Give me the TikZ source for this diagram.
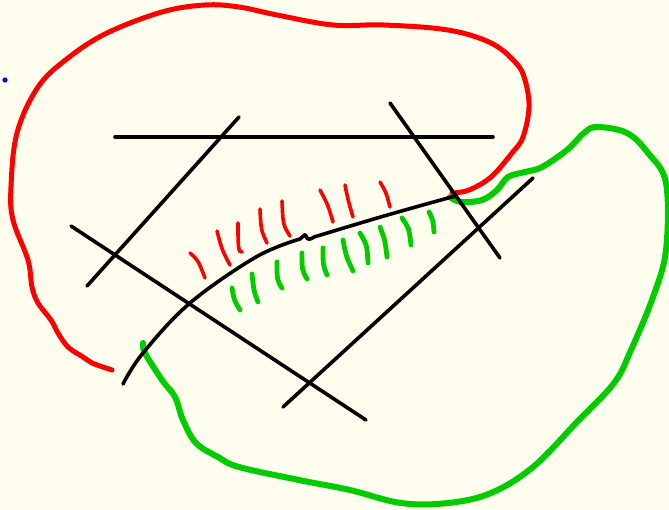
\documentclass[tikz,border=0pt]{standalone}
\definecolor{bg}{RGB}{255,253,238}
\definecolor{sred}{RGB}{255,0,0}
\definecolor{sgreen}{RGB}{0,204,0}
\definecolor{sblue}{RGB}{0,0,255}
\tikzset{
  blk/.style={draw=black,line width=3.6pt,line cap=round,line join=round},
  redline/.style={draw=sred,line width=5pt,line cap=round,line join=round},
  greenline/.style={draw=sgreen,line width=6pt,line cap=round,line join=round},
  redhatch/.style={draw=sred,line width=3.6pt,line cap=round},
  greenhatch/.style={draw=sgreen,line width=4.8pt,line cap=round},
}
\begin{document}
\begin{tikzpicture}[x=1pt,y=-1pt]
\fill[bg] (0,0) rectangle (669,509);
\useasboundingbox (0,0) rectangle (669,509);
% blue dot
\fill[sblue] (5,80) circle (2.6);
% red outline
\draw[redline] plot[smooth,tension=0.6] coordinates {
 (112,370) (92,363) (83,357) (68,347) (58,333) (51,320) (38,303) (32,287)
 (28,260) (13,220) (11,187) (17,133) (38,87) (68,58) (107,33) (162,12)
 (205,5) (239,7) (277,15) (333,25) (384,25) (448,30) (491,43) (516,63)
 (525,80) (529,107) (523,137) (512,153) (491,177) (469,190) (452,193)};
% green outline
\draw[greenline] plot[smooth,tension=0.6] coordinates {
 (143,343) (145,353) (162,380) (175,397) (183,420) (196,443) (218,457)
 (239,467) (299,480) (350,490) (401,503) (448,503) (491,493) (533,467)
 (576,423) (614,383) (631,350) (653,297) (666,250) (666,183) (648,153)
 (627,133) (597,127) (584,133) (567,150) (542,167) (525,172) (508,177)
 (497,190) (482,200) (461,202) (450,197)};
% black straight lines
\draw[blk] (115,137) -- (493,137);
\draw[blk] (239,117) -- (87,286);
\draw[blk] (390,103) -- (500,258);
\draw[blk] (71,226) -- (366,420);
\draw[blk] (533,178) -- (283,407);
% black curve
\draw[blk] plot[smooth,tension=0.6] coordinates {
 (123,384) (143,353) (190,303) (256,257) (300,239)};
\draw[blk] (300,239) .. controls (304,236) and (305,233) .. (306,236)
  .. controls (307,240) and (310,240) .. (314,237);
\draw[blk] plot[smooth,tension=0.6] coordinates {
 (314,237) (384,216) (448,198) (452,197)};
% red hatches
\draw[redhatch] (190,253) .. controls (198,260) .. (205,278);
\draw[redhatch] (217,231) .. controls (222,250) .. (230,265);
\draw[redhatch] (238,223) .. controls (238,245) and (238,253) .. (242,252);
\draw[redhatch] (260,209) .. controls (261,230) .. (267,243);
\draw[redhatch] (282,201) .. controls (283,225) .. (290,236);
\draw[redhatch] (320,190) .. controls (328,205) .. (333,222);
\draw[redhatch] (345,185) .. controls (348,200) .. (353,217);
\draw[redhatch] (380,182) .. controls (386,192) .. (390,207);
% green hatches
\draw[greenhatch] (232,288) .. controls (234,300) .. (240,310);
\draw[greenhatch] (252,274) .. controls (254,292) .. (258,302);
\draw[greenhatch] (277,262) .. controls (277,280) .. (282,288);
\draw[greenhatch] (302,253) .. controls (302,270) .. (307,279);
\draw[greenhatch] (323,248) .. controls (323,265) .. (327,275);
\draw[greenhatch] (343,240) .. controls (346,256) .. (353,271);
\draw[greenhatch] (360,233) .. controls (367,245) .. (368,263);
\draw[greenhatch] (380,227) .. controls (385,240) .. (387,257);
\draw[greenhatch] (402,218) .. controls (409,228) .. (411,245);
\draw[greenhatch] (429,212) .. controls (433,220) .. (434,232);
\end{tikzpicture}
\end{document}
